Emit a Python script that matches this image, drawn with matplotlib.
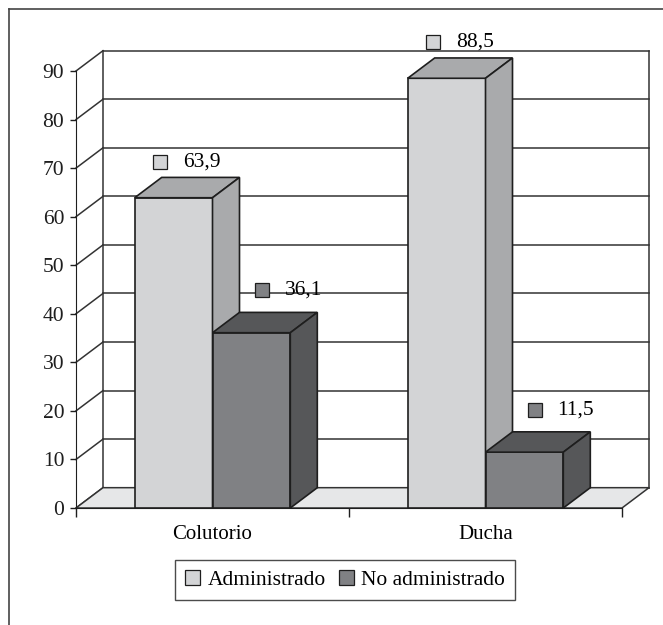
import matplotlib
matplotlib.use('Agg')
import matplotlib.pyplot as plt
import matplotlib.patches as mpatches
from matplotlib.lines import Line2D

# data
categories = ['Colutorio', 'Ducha']
series = ['Administrado', 'No administrado']
administrado = [63.9, 88.5]
no_administrado = [36.1, 11.5]
yticks = [0, 10, 20, 30, 40, 50, 60, 70, 80, 90]

# colours (front, top, side)
colors = {
    'Administrado': ('#d3d4d6', '#a9aaac', '#a9aaac'),
    'No administrado': ('#808184', '#565759', '#565759'),
}
edge = '#1e1e1e'
grid_col = '#333333'

plt.rcParams['font.family'] = ['Liberation Serif', 'DejaVu Serif']
FS = 15.5

W, H = 663, 625
fig = plt.figure(figsize=(W / 100, H / 100), dpi=100)
ax = fig.add_axes([76 / W, 117 / H, (622 - 76) / W, (554 - 117) / H])
ax.set_xlim(0, 2)
ax.set_ylim(0, 90)

# depth of the 3d effect in data units (27 px right, 20 px up)
ddx = 27 / 273.0
ddy = 20.3 / 4.85

# back wall, side wall and floor
for v in yticks:
    ax.plot([ddx, 2 + ddx], [v + ddy, v + ddy], color=grid_col, lw=1.1, zorder=1, clip_on=False)
    ax.plot([0, ddx], [v, v + ddy], color=grid_col, lw=1.1, zorder=1, clip_on=False)
ax.plot([ddx, ddx], [ddy, 90 + ddy], color=grid_col, lw=1.1, zorder=1, clip_on=False)
ax.plot([2 + ddx, 2 + ddx], [ddy, 90 + ddy], color=grid_col, lw=1.1, zorder=1, clip_on=False)
floor = mpatches.Polygon([(0, 0), (2, 0), (2 + ddx, ddy), (ddx, ddy)], closed=True,
                         facecolor='#e6e7e8', edgecolor=grid_col, lw=1.1, zorder=1.5, clip_on=False)
ax.add_patch(floor)


def bar3d(x0, w, h, name):
    front, top, side = colors[name]
    kw = dict(closed=True, edgecolor=edge, lw=1.2, zorder=3, clip_on=False)
    ax.add_patch(mpatches.Polygon([(x0, 0), (x0 + w, 0), (x0 + w, h), (x0, h)], facecolor=front, **kw))
    ax.add_patch(mpatches.Polygon([(x0, h), (x0 + w, h), (x0 + w + ddx, h + ddy), (x0 + ddx, h + ddy)],
                                  facecolor=top, **kw))
    ax.add_patch(mpatches.Polygon([(x0 + w, 0), (x0 + w + ddx, ddy), (x0 + w + ddx, h + ddy), (x0 + w, h)],
                                  facecolor=side, **kw))


def value_label(xc, v, name, off):
    y = v + off
    ax.plot([xc], [y], marker='s', ms=9.5, mfc=colors[name][0], mec=edge, mew=0.9,
            zorder=5, clip_on=False)
    ax.text(xc + 0.084, y, f'{v:.1f}'.replace('.', ','), fontsize=FS, va='center', ha='left',
            zorder=5, clip_on=False)


bw = 0.285
for i, cat in enumerate(categories):
    c = i + 0.5
    bar3d(c - bw, bw, administrado[i], 'Administrado')
    bar3d(c, bw, no_administrado[i], 'No administrado')
    value_label(c - bw / 2 - 0.05, administrado[i], 'Administrado', 7.4)
    value_label(c + bw / 2 + 0.037, no_administrado[i], 'No administrado', 8.7)

# axes
for s in ['top', 'right']:
    ax.spines[s].set_visible(False)
ax.spines['left'].set_color(edge)
ax.spines['bottom'].set_color(edge)
ax.spines['left'].set_zorder(2)
ax.set_yticks(yticks)
ax.set_yticklabels([str(v) for v in yticks], fontsize=FS)
ax.tick_params(axis='y', direction='out', length=4.5, width=1, pad=4, colors=edge)
ax.set_xticks([0, 1, 2])
ax.set_xticklabels(['', '', ''])
ax.tick_params(axis='x', which='major', direction='out', length=6.5, width=1, colors=edge)
ax.set_xticks([0.5, 1.5], minor=True)
ax.set_xticklabels(categories, minor=True, fontsize=15)
ax.tick_params(axis='x', which='minor', length=0, pad=12)
ax.set_facecolor('none')

# legend
handles = [mpatches.Patch(facecolor=colors[s][0], edgecolor=edge, lw=0.9, label=s) for s in series]
leg = fig.legend(handles=handles, loc='center', bbox_to_anchor=(345 / W, 1 - 580 / H), ncol=2,
                 fontsize=15.5, frameon=True, fancybox=False, handlelength=0.7, handleheight=0.7,
                 handletextpad=0.35, columnspacing=0.6, borderpad=0.45)
leg.get_frame().set_edgecolor(edge)
leg.get_frame().set_linewidth(1.0)

# outer frame
fig.add_artist(Line2D([9 / W, 9 / W], [0, 1 - 9 / H], transform=fig.transFigure, color='#444444', lw=1.2))
fig.add_artist(Line2D([9 / W, 1], [1 - 9 / H, 1 - 9 / H], transform=fig.transFigure, color='#444444', lw=1.2))

fig.savefig('out.png', dpi=100)
plt.close(fig)
